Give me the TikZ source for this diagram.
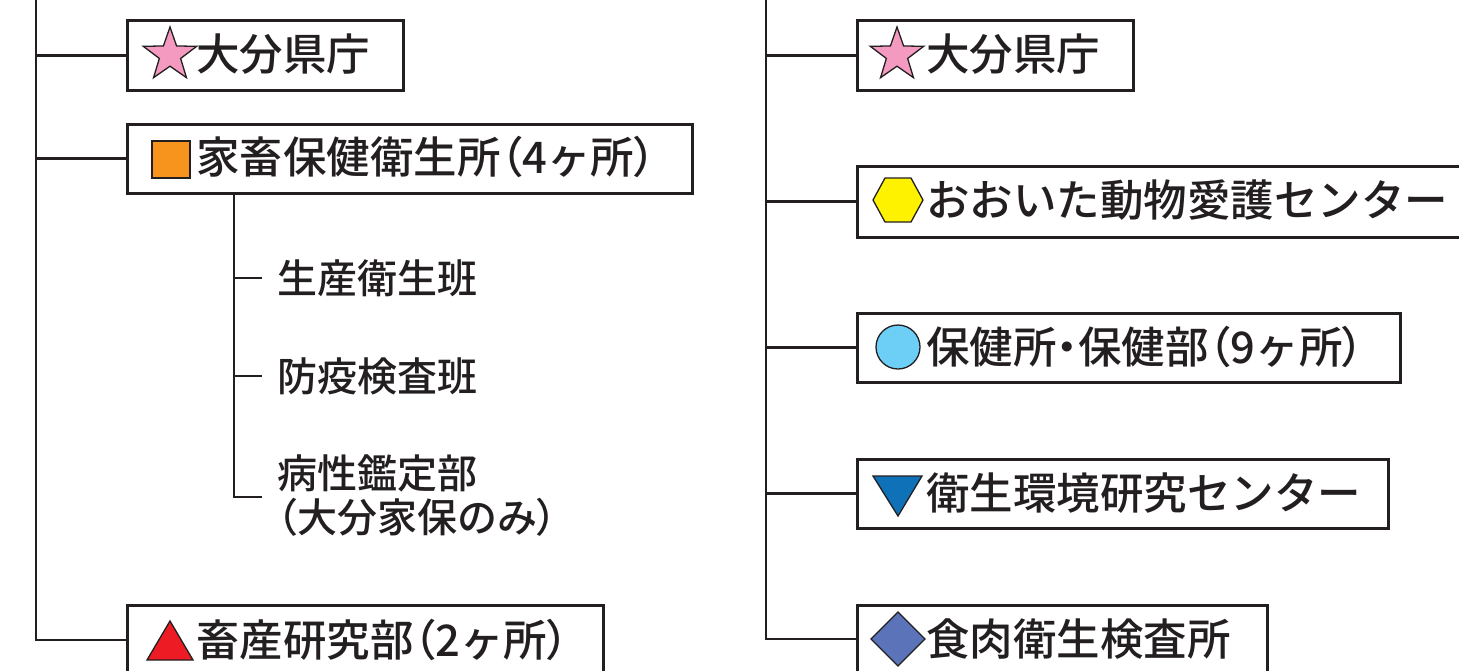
\documentclass[tikz,border=0pt]{standalone}
\usepackage{fontspec}
\setmainfont{Noto Sans CJK JP Medium}
\newfontfamily\jpp[RawFeature=+palt]{Noto Sans CJK JP Medium}
\newcommand\myLP{{\jpp （}}
\newcommand\myRP{{\jpp ）}}
\newcommand\myDot{{\jpp ・}}
\definecolor{ink}{HTML}{231F20}
\definecolor{starpink}{HTML}{F49AC1}
\definecolor{sqorange}{HTML}{F7941D}
\definecolor{trired}{HTML}{ED1C24}
\definecolor{hexyellow}{HTML}{FFF200}
\definecolor{circblue}{HTML}{6DCFF6}
\definecolor{triblue}{HTML}{0F72B9}
\definecolor{diablue}{HTML}{5B73B8}
\begin{document}
\begin{tikzpicture}[x=1pt,y=-1pt,
  box/.style={draw=ink, line width=2.6pt, inner sep=0pt, anchor=north west},
  conn/.style={draw=ink, line width=2.8pt},
  lbl/.style={anchor=west, inner sep=0pt, text=ink, font=\fontsize{43.5}{50}\selectfont},
  sublbl/.style={anchor=west, inner sep=0pt, text=ink, align=left, font=\fontsize{40}{44}\selectfont},
  icon/.style={draw=ink, line width=1.3pt, line join=miter}]
\useasboundingbox (0,0) rectangle (1459,670);
\clip (0,0) rectangle (1459,670);

% trunk coordinates
\coordinate (L0) at (36,-5);
\coordinate (Lend) at (36,640);
\coordinate (R0) at (766,-5);
\coordinate (Rend) at (766,639);
\coordinate (subend) at (234,497);

% left boxes
\node[box, minimum width=276pt, minimum height=70pt] (b1) at (126,19) {};
\node[box, minimum width=565pt, minimum height=69pt] (b2) at (126,123) {};
\node[box, minimum width=476pt, minimum height=100pt] (b3) at (126,604) {};

% right boxes
\node[box, minimum width=276pt, minimum height=70pt] (r1) at (856,19) {};
\node[box, minimum width=640pt, minimum height=71pt] (r2) at (856,165) {};
\node[box, minimum width=543pt, minimum height=69pt] (r3) at (856,312) {};
\node[box, minimum width=531pt, minimum height=69pt] (r4) at (856,458) {};
\node[box, minimum width=410pt, minimum height=100pt] (r5) at (856,604) {};

% labels
\node[lbl] (t1) at (196,54) {大分県庁};
\node[lbl] (t2) at (196,157) {家畜保健衛生所\myLP 4ヶ所\myRP};
\node[lbl] (t3) at (196,640) {畜産研究部\myLP 2ヶ所\myRP};
\node[sublbl] (s1) at (277,278) {生産衛生班};
\node[sublbl] (s2) at (277,376) {防疫検査班};
\node[sublbl] (s3) at (277,496) {病性鑑定部\\\myLP 大分家保のみ\myRP};

\node[lbl] (u1) at (926,54) {大分県庁};
\node[lbl] (u2) at (926,200) {おおいた動物愛護センター};
\node[lbl] (u3) at (926,347) {保健所\myDot 保健部\myLP 9ヶ所\myRP};
\node[lbl] (u4) at (926,493) {衛生環境研究センター};
\node[lbl] (u5) at (926,639) {食肉衛生検査所};

% connectors left
\draw[conn] (L0) -- (Lend) -- (Lend -| b3.west);
\draw[conn] (b1.west -| L0) -- (b1.west);
\draw[conn] (b2.west -| L0) -- (b2.west);
\draw[conn] (subend |- b2.south) -- (subend) -- ([xshift=-15pt]subend -| s3.west);
\draw[conn] (s1.west -| subend) -- ([xshift=-15pt]s1.west);
\draw[conn] (s2.west -| subend) -- ([xshift=-15pt]s2.west);

% connectors right
\draw[conn] (R0) -- (Rend) -- (Rend -| r5.west);
\draw[conn] (r1.west -| R0) -- (r1.west);
\draw[conn] (r2.west -| R0) -- (r2.west);
\draw[conn] (r3.west -| R0) -- (r3.west);
\draw[conn] (r4.west -| R0) -- (r4.west);

% icons
\draw[icon, fill=starpink] (170,55) +(-90:28)
  \foreach \i in {1,...,9}{ -- +({-90+36*\i}:{mod(\i,2)==1 ? 11.2 : 28}) } -- cycle;
\draw[icon, fill=starpink] (897,55) +(-90:28)
  \foreach \i in {1,...,9}{ -- +({-90+36*\i}:{mod(\i,2)==1 ? 11.2 : 28}) } -- cycle;
\draw[icon, fill=sqorange] (152,141) rectangle (190,178);
\draw[icon, fill=trired] (147,660) -- (193,660) -- (170,621) -- cycle;
\draw[icon, fill=hexyellow] (873,200) -- (885,178) -- (911,178) -- (923,200) -- (911,222) -- (885,222) -- cycle;
\draw[icon, fill=circblue] (898,347) circle (22);
\draw[icon, fill=triblue] (873,476) -- (922,476) -- (898,516) -- cycle;
\draw[icon, fill=diablue] (871,639) -- (898,612) -- (925,639) -- (898,666) -- cycle;
\end{tikzpicture}
\end{document}
